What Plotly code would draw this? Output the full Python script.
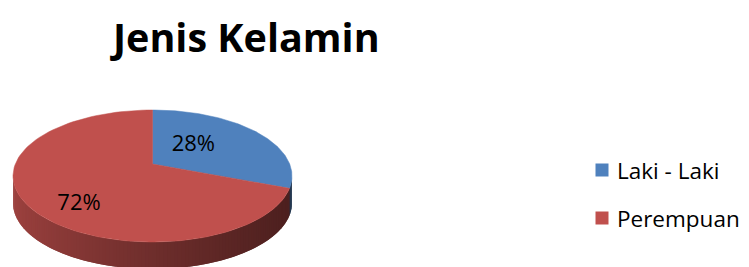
import numpy as np
import plotly.graph_objects as go

# ---- data ----
categories = ["Laki - Laki", "Perempuan"]
values = [28, 72]
labels = ["28%", "72%"]
colors = ["#4F81BD", "#C0504D"]
title = "Jenis Kelamin"

# ---- layout constants (pixel space) ----
W, H = 749, 267
cx, cy, rx, ry = 152.5, 176.0, 139.5, 66.0
apex = (152.5, 164.0)
depth = 27.0
label_c = (152.5, 165.0)
label_fx = [0.38, 0.684]
label_fy = [0.47, 0.93]
font = "Open Sans"


def hex2rgb(h):
    h = h.lstrip("#")
    return tuple(int(h[i:i + 2], 16) for i in (0, 2, 4))


def ell(phi):
    return cx + rx * np.sin(phi), cy - ry * np.cos(phi)


fig = go.Figure()

total = float(sum(values))
fr = np.cumsum([0] + values) / total
bounds = [(2 * np.pi * fr[i], 2 * np.pi * fr[i + 1]) for i in range(len(values))]

# ---- side wall (front half), overlapping strips to avoid seams ----
N = 120
phis = np.linspace(np.pi / 2, 3 * np.pi / 2, N + 1)
for k in range(N):
    a = phis[k]
    b = phis[min(k + 2, N)]
    m = 0.5 * (phis[k] + phis[k + 1])
    idx = 0
    for i, (p0, p1) in enumerate(bounds):
        if p0 <= m < p1:
            idx = i
    ph = np.linspace(a, b, 4)
    xs, ys = ell(ph)
    xm = ell(m)[0]
    t = (xm - (cx - rx)) / (2 * rx)  # 0 left .. 1 right
    f = 0.82 - 0.42 * t ** 0.8
    r, g, bb = hex2rgb(colors[idx])
    col = "rgb(%d,%d,%d)" % (r * f, g * f, bb * f)
    x = list(xs) + list(xs[::-1]) + [xs[0]]
    y = list(ys) + list(ys[::-1] + depth) + [ys[0]]
    fig.add_trace(go.Scatter(
        x=x, y=y, fill="toself", mode="lines", fillcolor=col,
        line=dict(color=col, width=0), hoverinfo="skip", showlegend=False))

# ---- top face wedges ----
for i, (p0, p1) in enumerate(bounds):
    ph = np.linspace(p0, p1, 120)
    xs, ys = ell(ph)
    x = [apex[0]] + list(xs) + [apex[0]]
    y = [apex[1]] + list(ys) + [apex[1]]
    fig.add_trace(go.Scatter(
        x=x, y=y, fill="toself", mode="lines", fillcolor=colors[i],
        line=dict(color=colors[i], width=0.5), hoverinfo="skip",
        showlegend=False))

# ---- slice labels ----
lx, ly = [], []
for i, (p0, p1) in enumerate(bounds):
    m = 0.5 * (p0 + p1)
    lx.append(label_c[0] + label_fx[i] * rx * np.sin(m))
    ly.append(label_c[1] - label_fy[i] * ry * np.cos(m))
fig.add_trace(go.Scatter(
    x=lx, y=ly, mode="text", text=labels,
    textfont=dict(family=font, size=22, color="#000000"),
    hoverinfo="skip", showlegend=False))

# ---- legend ----
leg_y = [170, 218]
fig.add_trace(go.Scatter(
    x=[602, 602], y=leg_y, mode="markers",
    marker=dict(symbol="square", size=13, color=colors, line=dict(width=0)),
    hoverinfo="skip", showlegend=False))

annotations = [dict(
    text="<b>%s</b>" % title, x=245, y=37, xref="x", yref="y",
    showarrow=False, xanchor="center", yanchor="middle",
    font=dict(family=font, size=39.5, color="#000000"))]
for name, yy in zip(categories, leg_y):
    annotations.append(dict(
        text=name, x=615, y=yy, xref="x", yref="y", showarrow=False,
        xanchor="left", yanchor="middle",
        font=dict(family=font, size=22.5, color="#000000")))

fig.update_layout(
    width=W, height=H,
    margin=dict(l=0, r=0, t=0, b=0),
    paper_bgcolor="white", plot_bgcolor="white",
    showlegend=False,
    xaxis=dict(range=[0, W], visible=False, fixedrange=True),
    yaxis=dict(range=[H, 0], visible=False, fixedrange=True),
    annotations=annotations,
)

fig.write_html("out.html", config={"displayModeBar": False},
               post_script="document.body.style.margin='0';document.body.style.overflow='hidden';")
